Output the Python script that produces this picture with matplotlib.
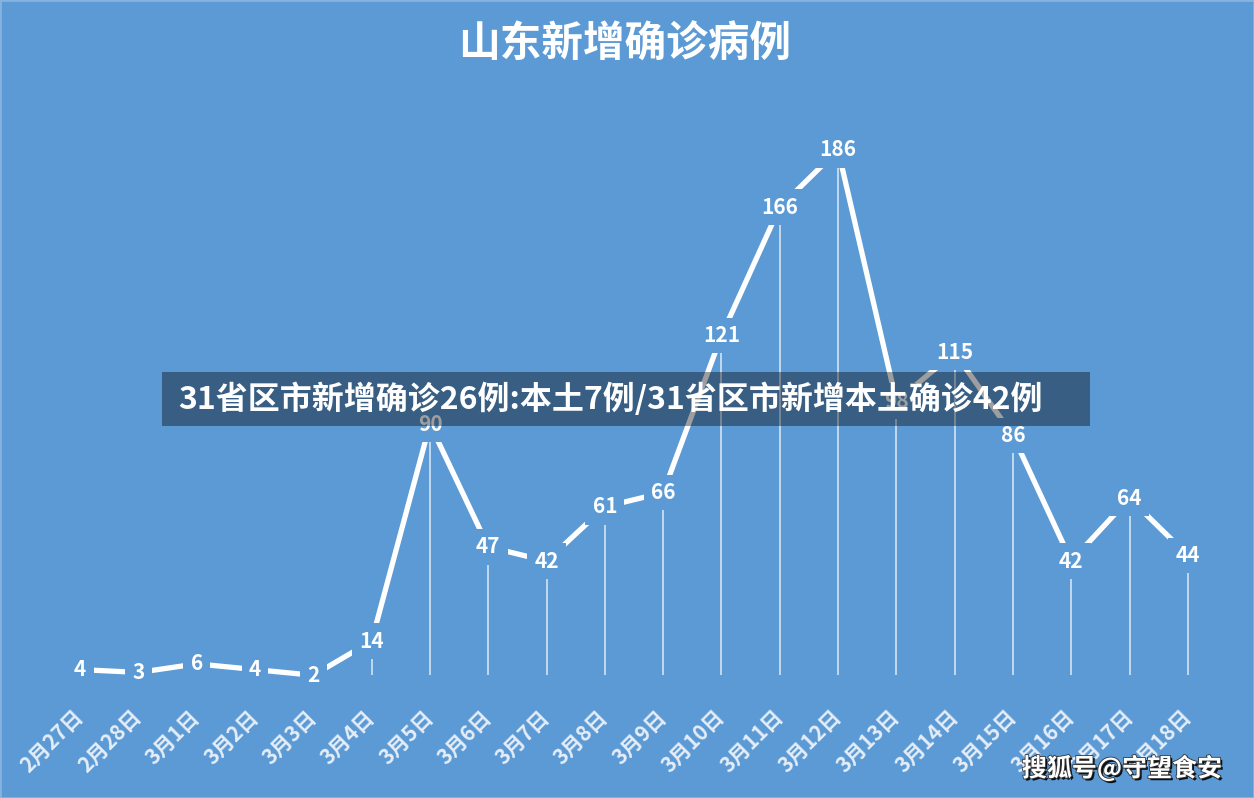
import matplotlib
matplotlib.use('Agg')
import matplotlib.pyplot as plt
import matplotlib.patheffects as pe
from matplotlib.patches import Rectangle

# ---- data ----
dates = ['2月27日', '2月28日', '3月1日', '3月2日', '3月3日', '3月4日', '3月5日',
         '3月6日', '3月7日', '3月8日', '3月9日', '3月10日', '3月11日', '3月12日',
         '3月13日', '3月14日', '3月15日', '3月16日', '3月17日', '3月18日']
cases = [4, 3, 6, 4, 2, 14, 90, 47, 42, 61, 66, 121, 166, 186, 98, 115, 86, 42, 64, 44]
title = '山东新增确诊病例'
banner = '31省区市新增确诊26例:本土7例/31省区市新增本土确诊42例'
watermark = '搜狐号@守望食安'

CJK = ['Noto Sans CJK SC', 'DejaVu Sans']
BG = '#5b9ad4'
W, H = 1254, 798

fig = plt.figure(figsize=(W / 100, H / 100), dpi=100, facecolor=BG)
ax = fig.add_axes([51 / W, 117 / H, 1166 / W, 571 / H])
ax.set_facecolor(BG)
x = list(range(len(cases)))
ax.set_xlim(-0.5, len(cases) - 0.5)
ax.set_ylim(0, 200)
for s in ax.spines.values():
    s.set_visible(False)
ax.tick_params(left=False, labelleft=False, bottom=False)

drop_base = 2
ax.vlines(x, drop_base, cases, colors='#d3e4f5', lw=1.2, zorder=1)
ax.plot(x, cases, color='white', lw=3.8, zorder=2, solid_capstyle='butt')
for xi, v in zip(x, cases):
    ax.text(xi, v, str(v), ha='center', va='center', fontsize=15,
            fontweight='bold', family=CJK, color='white',
            zorder=3, bbox=dict(boxstyle='square,pad=0.35', fc=BG, ec='none'))

ax.set_xticks(x)
ax.set_xticklabels(dates, rotation=45, ha='right', va='center',
                   rotation_mode='anchor', fontsize=15, fontweight='bold',
                   color='#e6eef8', family=CJK)
ax.tick_params(axis='x', pad=20)

# title
fig.text(625 / W, 1 - 45 / H, title, ha='center', va='center', fontsize=30,
         fontweight='bold', color='white', family=CJK)

# banner overlay
rect = Rectangle((162 / W, 1 - 426 / H), (1090 - 162) / W, 54 / H,
                 transform=fig.transFigure, fc='black', alpha=0.38, ec='none',
                 zorder=5)
fig.add_artist(rect)
fig.text(178 / W, 1 - 399 / H, banner, ha='left', va='center', fontsize=23,
         fontweight='bold', color='white', family=CJK, zorder=6)

# watermark
fig.text(1222 / W, 1 - 768 / H, watermark, ha='right', va='center', fontsize=18,
         fontweight='bold', color='white', family=CJK, zorder=6,
         path_effects=[pe.withSimplePatchShadow(offset=(1.5, -1.5),
                                                shadow_rgbFace='black', alpha=0.9),
                       pe.withStroke(linewidth=1.2, foreground='#333333')])

# thin light frame
frame = Rectangle((0, 0), 1, 1, transform=fig.transFigure, fc='none',
                  ec='#86b3df', lw=2, zorder=7)
fig.add_artist(frame)

fig.savefig('out.png', dpi=100, facecolor=BG)
